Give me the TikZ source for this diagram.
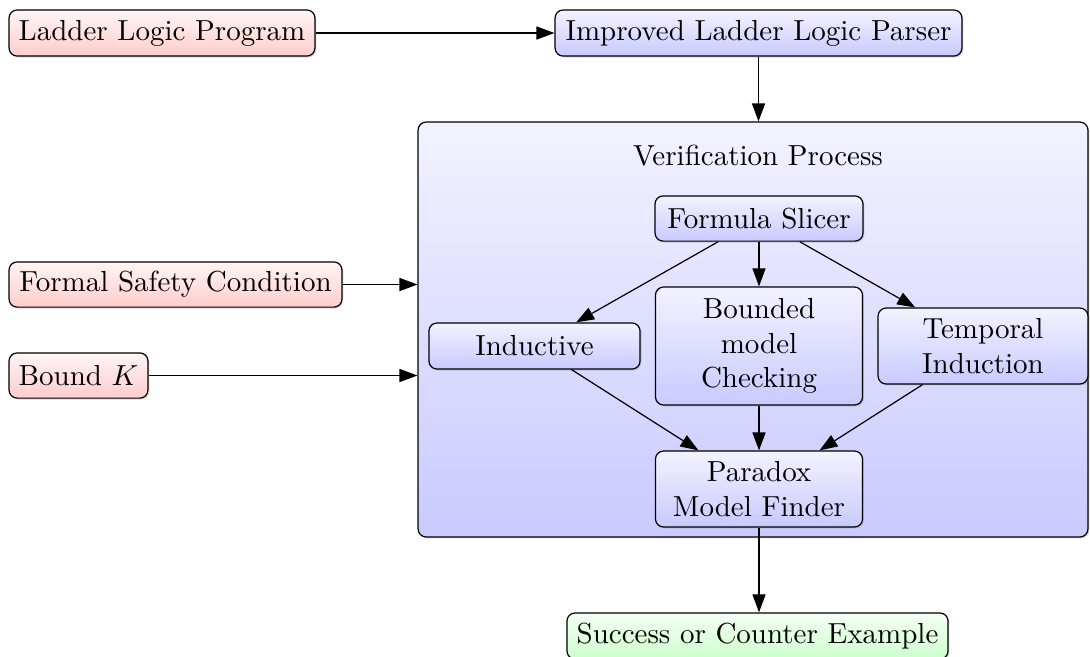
\documentclass[tikz,border=0pt]{standalone}
\usetikzlibrary{arrows.meta,shadows}

\begin{document}
\begin{tikzpicture}[
  x=0.34483pt, y=-0.34483pt,
  every node/.style={inner sep=3pt, align=center},
  box/.style={draw, rounded corners=2.8pt, line width=0.42pt,
    drop shadow={shadow xshift=0.5pt, shadow yshift=-0.5pt, opacity=0.3}},
  inbox/.style={box, top color=red!4, bottom color=red!20},
  procbox/.style={box, top color=blue!5, bottom color=blue!21},
  outbox/.style={box, top color=green!4, bottom color=green!20},
  arr/.style={-{Triangle[length=6.2pt,width=4.5pt]}, line width=0.42pt}
]
\useasboundingbox (0,0) rectangle (1090,656);

% verification container
\node[procbox, minimum width=231pt, minimum height=143.1pt] (vp) at (753,329.5) {};
\node (vptitle) at (758,156) {Verification Process};

% inputs
\node[inbox, minimum width=105.5pt, minimum height=15.9pt] (llp) at (162,33) {Ladder Logic Program};
\node[inbox, minimum width=114.8pt, minimum height=15.6pt] (fsc) at (175.5,284.5) {Formal Safety Condition};
\node[inbox, minimum width=47.9pt, minimum height=15.6pt] (bk) at (78.5,375.5) {Bound $K$};

% parser
\node[procbox, minimum width=140.3pt, minimum height=15.9pt] (parser) at (758.5,33) {Improved Ladder Logic Parser};

% inner stages
\node[procbox, minimum width=71.7pt, minimum height=15.6pt] (slicer) at (759,218.5) {Formula Slicer};
\node[procbox, minimum width=72.8pt, minimum height=15.9pt] (ind) at (534.5,346) {Inductive};
\node[procbox, minimum width=71.4pt, minimum height=40.7pt] (bmc) at (759,346) {Bounded\\model\\Checking};
\node[procbox, minimum width=72.4pt, minimum height=26.2pt] (tind) at (983,346) {Temporal\\Induction};
\node[procbox, minimum width=71.4pt, minimum height=26.2pt] (pmf) at (759,489) {Paradox\\Model Finder};

% output
\node[outbox, minimum width=131.4pt, minimum height=15.9pt] (res) at (757.5,636) {Success or Counter Example};

% connections
\draw[arr] (llp) -- (parser);
\draw[arr] (parser) -- (parser |- vp.north);
\draw[arr] (fsc) -- (vp.west |- fsc);
\draw[arr] (bk) -- (vp.west |- bk);
\draw[arr] (slicer) -- (ind);
\draw[arr] (slicer) -- (bmc);
\draw[arr] (slicer) -- (tind);
\draw[arr] (ind) -- (pmf);
\draw[arr] (bmc) -- (pmf);
\draw[arr] (tind) -- (pmf);
\draw[arr] (pmf.south) -- (pmf.south |- res.north);
\end{tikzpicture}
\end{document}
